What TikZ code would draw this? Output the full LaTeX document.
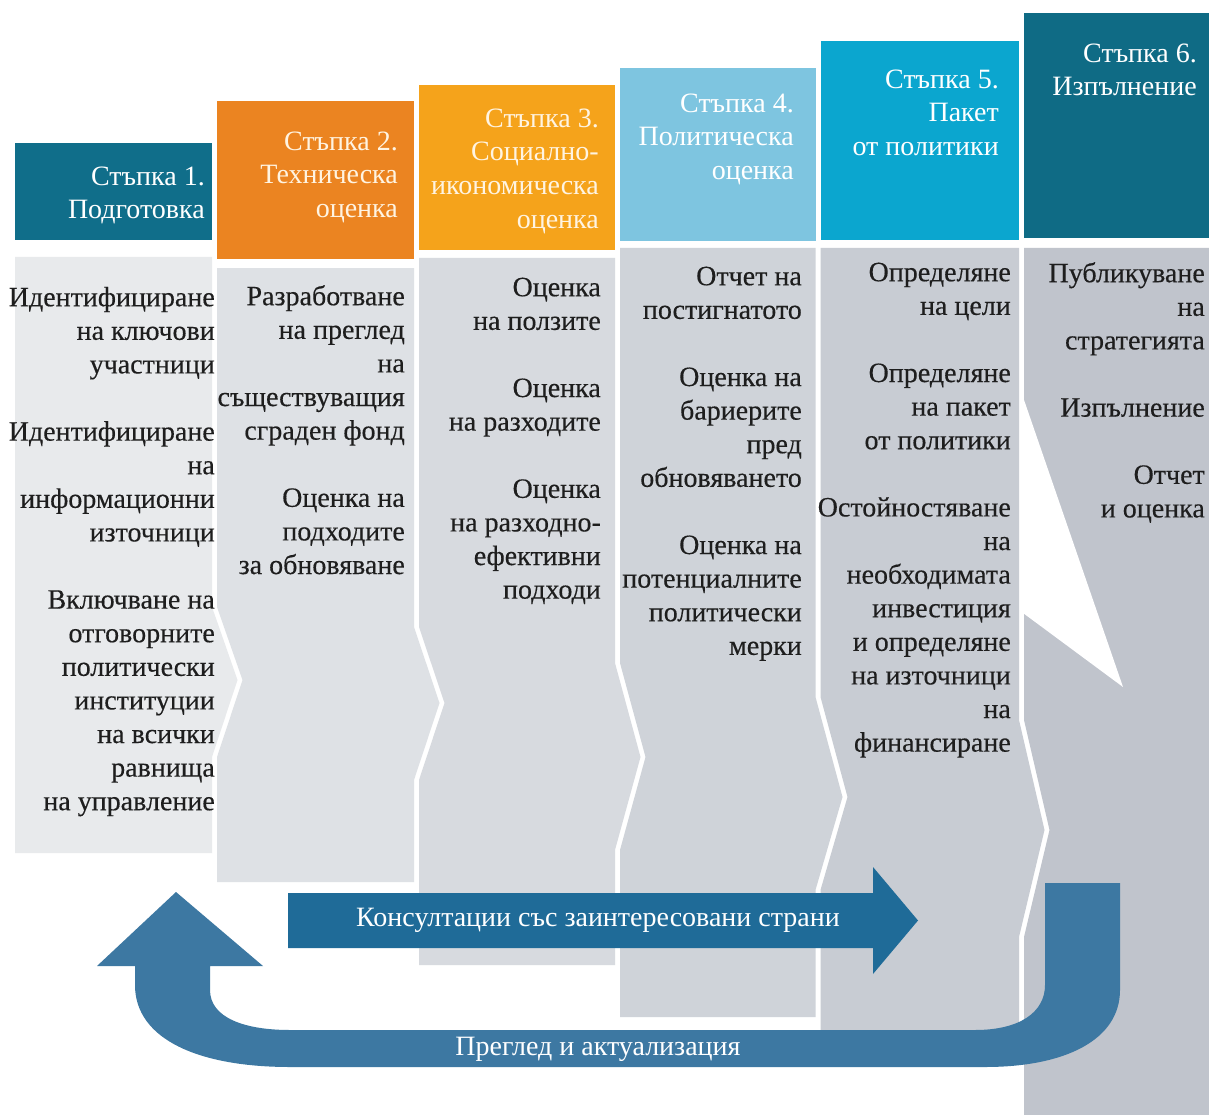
\documentclass[tikz,border=0pt]{standalone}
\usepackage{fontspec}
\setmainfont{Liberation Serif}
\newfontfamily\bodyff{Liberation Serif}[FakeBold=0.35]
\newcommand\hfnt{\fontsize{28}{33.6}\selectfont}
\newcommand\bfnt{\bodyff\fontsize{28}{33.6}\selectfont}
\definecolor{hdA}{HTML}{106E8A}
\definecolor{hdB}{HTML}{EB8421}
\definecolor{hdC}{HTML}{F5A31B}
\definecolor{hdD}{HTML}{7EC5E0}
\definecolor{hdE}{HTML}{0BA6CF}
\definecolor{hdF}{HTML}{0F6B85}
\definecolor{bgA}{HTML}{E8EAEC}
\definecolor{bgB}{HTML}{DEE1E5}
\definecolor{bgC}{HTML}{D7DADF}
\definecolor{bgD}{HTML}{CFD3D9}
\definecolor{bgE}{HTML}{C8CCD3}
\definecolor{bgF}{HTML}{C0C4CC}
\definecolor{txtc}{HTML}{1E1E1E}
\definecolor{consc}{HTML}{1F6B98}
\definecolor{revc}{HTML}{3D78A2}
\definecolor{cream}{HTML}{FFF4E2}
\begin{document}
\begin{tikzpicture}[x=1pt,y=-1pt,
  hdr/.style={inner sep=0pt, align=right, anchor=north east, font=\hfnt, text=white},
  bodytxt/.style={inner sep=0pt, align=right, anchor=north east, font=\bfnt, text=txtc},
  arrlabel/.style={inner sep=0pt, font=\hfnt, text=white}]
\useasboundingbox[fill=white] (0,0) rectangle (1209,1115);

% column bodies
\fill[bgA] (15,257) -- (212,257) -- (212,607) -- (237.5,680) -- (212,757) -- (212,853) -- (15,853) -- cycle;
\fill[bgB] (217,268) -- (414,268) -- (414,627) -- (439.5,703) -- (414,780) -- (414,882) -- (217,882) -- (217,757) -- (242.5,680) -- (217,607) -- cycle;
\fill[bgC] (419,258) -- (615,258) -- (615,663) -- (640.5,757) -- (615,850) -- (615,965) -- (419,965) -- (419,780) -- (444.5,703) -- (419,627) -- cycle;
\fill[bgD] (620,248) -- (815.5,248) -- (815.5,697) -- (842.5,797) -- (815.5,890) -- (815.5,1017) -- (620,1017) -- (620,850) -- (645.5,757) -- (620,663) -- cycle;
\fill[bgE] (820.5,248) -- (1019,248) -- (1019,720) -- (1044.5,830) -- (1019,937) -- (1019,1050) -- (820.5,1050) -- (820.5,890) -- (847.5,797) -- (820.5,697) -- cycle;
\fill[bgF] (1024,248) -- (1209,248) -- (1209,1115) -- (1024,1115) -- (1024,937) -- (1049.5,830) -- (1024,720) -- cycle;
\fill[white] (1023,397) -- (1123,687) -- (1023,613) -- cycle;

% headers
\fill[hdA] (15,143) rectangle (212,240);
\fill[hdB] (217,101) rectangle (414,259);
\fill[hdC] (419,85) rectangle (615,250);
\fill[hdD] (620,68) rectangle (815.5,241);
\fill[hdE] (820.5,41) rectangle (1019,240);
\fill[hdF] (1024,13) rectangle (1209,238);

\node[hdr] (h1) at (205,161.5) {\strut Стъпка 1.\\Подготовка};
\node[hdr, text=cream] (h2) at (398,126.5) {\strut Стъпка 2.\\Техническа\\оценка};
\node[hdr, text=cream] (h3) at (599,103.5) {\strut Стъпка 3.\\Социално-\\икономическа\\оценка};
\node[hdr] (h4) at (794,88.5) {\strut Стъпка 4.\\Политическа\\оценка};
\node[hdr] (h5) at (999,64.5) {\strut Стъпка 5.\\Пакет\hspace{6pt}\\от политики};
\node[hdr] (h6) at (1197,38.5) {\strut Стъпка 6.\\Изпълнение};

% body texts
\node[bodytxt] (t1) at (215,282.5) {\strut Идентифициране\\на ключови\\участници\\[33.6pt]Идентифициране\\на\\информационни\\източници\\[33.6pt]Включване на\\отговорните\\политически\\институции\\на всички\\равнища\\на управление};
\node[bodytxt] (t2) at (405,281.5) {\strut Разработване\\на преглед\\на\\съществуващия\\сграден фонд\\[33.6pt]Оценка на\\подходите\\за обновяване};
\node[bodytxt] (t3) at (601,272.5) {\strut Оценка\\на ползите\\[33.6pt]Оценка\\на разходите\\[33.6pt]Оценка\\на разходно-\\ефективни\\подходи};
\node[bodytxt] (t4) at (802,261.5) {\strut Отчет на\\постигнатото\\[33.6pt]Оценка на\\бариерите\\пред\\обновяването\\[33.6pt]Оценка на\\потенциалните\\политически\\мерки};
\node[bodytxt] (t5) at (1011,257.5) {\strut Определяне\\на цели\\[33.6pt]Определяне\\на пакет\\от политики\\[33.6pt]Остойностяване\\на\\необходимата\\инвестиция\\и определяне\\на източници\\на\\финансиране};
\node[bodytxt] (t6) at (1205,258.5) {\strut Публикуване\\на\\стратегията\\[33.6pt]Изпълнение\\[33.6pt]Отчет\hspace{18pt}\\и оценка};

% consultation arrow
\fill[consc] (288,893) -- (873,893) -- (873,867) -- (918,920.5) -- (873,974) -- (873,948) -- (288,948) -- cycle;
\node[arrlabel] (cons) at (598,920) {Консултации със заинтересовани страни};

% review arrow
\fill[revc] (176,892) -- (263,966) -- (210,966) -- (210,990) .. controls (210,1018) and (245,1030) .. (290,1030) -- (975,1030) .. controls (1020,1030) and (1045,1012) .. (1045,985) -- (1045,883) -- (1120,883) -- (1120,990) .. controls (1120,1040) and (1065,1067) .. (985,1067) -- (290,1067) .. controls (200,1067) and (135,1040) .. (135,985) -- (135,966) -- (97,966) -- cycle;
\node[arrlabel] (rev) at (598,1049) {Преглед и актуализация};
\end{tikzpicture}
\end{document}
